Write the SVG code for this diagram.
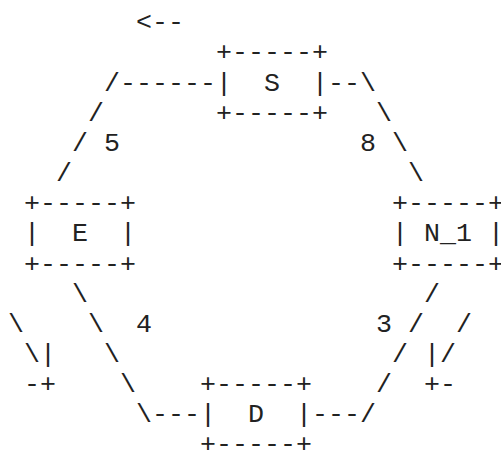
<svg xmlns="http://www.w3.org/2000/svg" width="501" height="450" viewBox="0 0 501 450" xml:space="preserve">
<style>
text{font-family:"Liberation Mono","Courier New",monospace;font-size:26.667px;fill:#222;white-space:pre}
</style>
<rect width="501" height="450" fill="#fff"/>
<g id="connectors">
<text x="136" y="30.3">&lt;--</text>
<text x="104" y="90.6">/------</text>
<text x="328" y="90.6">--\</text>
<text x="88" y="120.75">/</text>
<text x="376" y="120.75">\</text>
<text x="72" y="150.9">/</text>
<text x="104" y="150.9">5</text>
<text x="360" y="150.9">8</text>
<text x="392" y="150.9">\</text>
<text x="56" y="181.05">/</text>
<text x="408" y="181.05">\</text>
<text x="72" y="301.65">\</text>
<text x="424" y="301.65">/</text>
<text x="8" y="331.8">\</text>
<text x="88" y="331.8">\</text>
<text x="136" y="331.8">4</text>
<text x="376" y="331.8">3</text>
<text x="408" y="331.8">/</text>
<text x="456" y="331.8">/</text>
<text x="24" y="361.95">\|</text>
<text x="104" y="361.95">\</text>
<text x="392" y="361.95">/</text>
<text x="424" y="361.95">|/</text>
<text x="24" y="392.1">-+</text>
<text x="120" y="392.1">\</text>
<text x="376" y="392.1">/</text>
<text x="424" y="392.1">+-</text>
<text x="136" y="422.25">\---</text>
<text x="312" y="422.25">---/</text>
</g>
<g id="S">
<text x="216" y="60.45">+-----+</text>
<text x="216" y="90.6">|  S  |</text>
<text x="216" y="120.75">+-----+</text>
</g>
<g id="E">
<text x="24" y="211.2">+-----+</text>
<text x="24" y="241.35">|  E  |</text>
<text x="24" y="271.5">+-----+</text>
</g>
<g id="N_1">
<text x="392" y="211.2">+-----+</text>
<text x="392" y="241.35">| N_1 |</text>
<text x="392" y="271.5">+-----+</text>
</g>
<g id="D">
<text x="200" y="392.1">+-----+</text>
<text x="200" y="422.25">|  D  |</text>
<text x="200" y="452.4">+-----+</text>
</g>
</svg>
